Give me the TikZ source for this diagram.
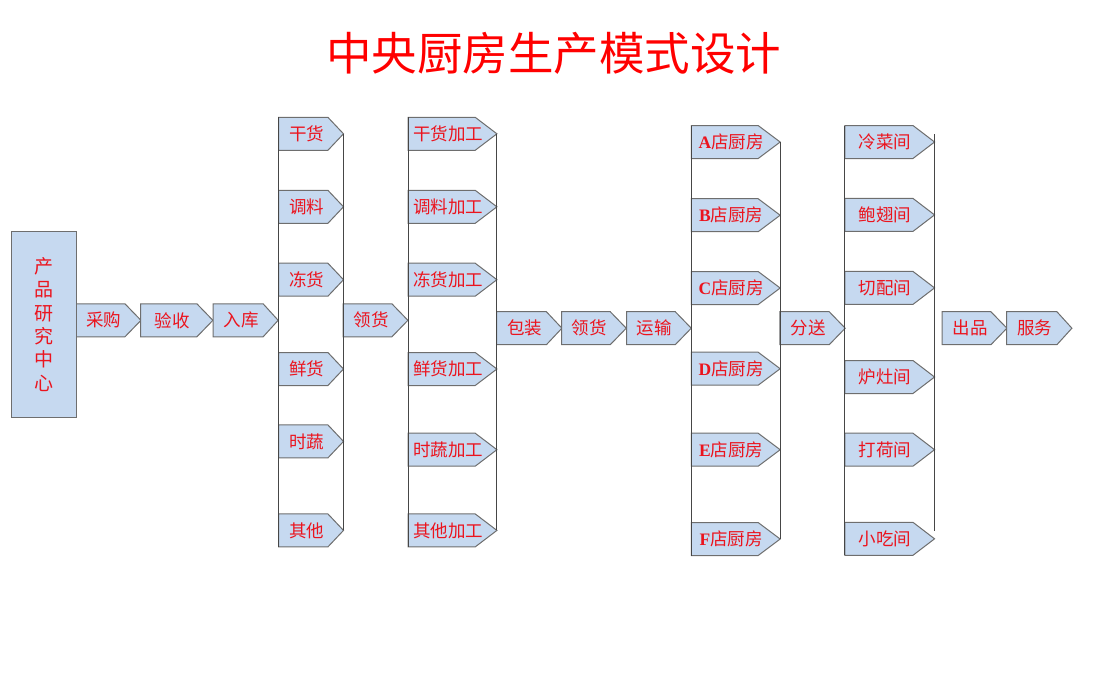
\documentclass[tikz,border=0pt]{standalone}
\usepackage{fontspec}
\newfontfamily\cjk{Noto Sans CJK SC}
\newfontfamily\latf{Liberation Serif}
\usetikzlibrary{calc}
\pgfdeclarelayer{bg}
\pgfsetlayers{bg,main}
\definecolor{boxfill}{RGB}{198,217,240}
\definecolor{boxline}{RGB}{110,110,110}
\definecolor{brline}{RGB}{70,70,70}
\definecolor{txtred}{RGB}{235,20,30}
\tikzset{
  boxnode/.style={rectangle, inner sep=0pt, minimum height=32.6pt, text=txtred,
    font=\cjk\fontsize{17.5}{17.5}\selectfont},
  boxshape/.style={fill=boxfill, draw=boxline, line width=1pt, line join=miter},
  bracket/.style={draw=brline, line width=1pt},
}
\newcommand\arrowbox[6]{%
  \node[boxnode, minimum width=#4pt] (#1) at (#2,#3) {#6\rule{9pt}{0pt}};
  \begin{pgfonlayer}{bg}
    \path[boxshape] (#1.north west) -- ([xshift=-#5pt]#1.north east) -- (#1.east)
      -- ([xshift=-#5pt]#1.south east) -- (#1.south west) -- cycle;
  \end{pgfonlayer}}
\newcommand\lt[1]{{\latf\bfseries #1}}
\begin{document}
\begin{tikzpicture}[x=1pt,y=-1pt]
\useasboundingbox (0,0) rectangle (1099,683);
% title
\node[text=red, font=\cjk\fontsize{45.5}{45.5}\selectfont] (title) at (553.5,53.5) {中央厨房生产模式设计};
% research centre
\node[rectangle, fill=boxfill, draw=boxline, line width=1pt, minimum width=64.6pt,
  minimum height=185.3pt, inner sep=0pt, text=txtred, align=center,
  font=\cjk\fontsize{19}{23.4}\selectfont] (rd) at (44,324.4) {产\\品\\研\\究\\中\\心};
% row 1
\arrowbox{cg}{108.4}{320.3}{64.7}{16}{采购}
\arrowbox{ys}{176.7}{320.3}{72}{16}{验收}
\arrowbox{rk}{245.6}{320.3}{64.7}{15}{入库}
\arrowbox{lh}{375.5}{320.3}{64.4}{16}{领货}
% column 1
\arrowbox{ga}{311}{133.8}{64.6}{15.6}{干货}
\arrowbox{gb}{311}{206.8}{64.6}{15.6}{调料}
\arrowbox{gc}{311}{279.7}{64.6}{15.6}{冻货}
\arrowbox{gd}{311}{369}{64.6}{15.6}{鲜货}
\arrowbox{ge}{311}{441.4}{64.6}{15.6}{时蔬}
\arrowbox{gf}{311}{530.4}{64.6}{15.6}{其他}
% column 2
\arrowbox{pa}{452.5}{133.8}{88.4}{21.7}{干货加工}
\arrowbox{pb}{452.5}{206.8}{88.4}{21.7}{调料加工}
\arrowbox{pc}{452.5}{279.7}{88.4}{21.7}{冻货加工}
\arrowbox{pd}{452.5}{369}{88.4}{21.7}{鲜货加工}
\arrowbox{pe}{452.5}{449.7}{88.4}{21.7}{时蔬加工}
\arrowbox{pf}{452.5}{530.4}{88.4}{21.7}{其他加工}
% row 2
\arrowbox{bz}{529.2}{328.2}{65}{15.5}{包装}
\arrowbox{lhb}{593.9}{328.2}{64.3}{16}{领货}
\arrowbox{ysb}{658.9}{328.2}{64.3}{16}{运输}
\arrowbox{fs}{812.5}{328.2}{65}{16}{分送}
\arrowbox{cp}{974.5}{328.2}{64.4}{16}{出品}
\arrowbox{fw}{1039.2}{328.2}{65}{15}{服务}
% column 3
\arrowbox{sa}{735.8}{142}{88.3}{22}{\lt{A}店厨房}
\arrowbox{sb}{735.8}{215.2}{88.3}{22}{\lt{B}店厨房}
\arrowbox{sc}{735.8}{288}{88.3}{22}{\lt{C}店厨房}
\arrowbox{sd}{735.8}{368.7}{88.3}{22}{\lt{D}店厨房}
\arrowbox{se}{735.8}{449.7}{88.3}{22}{\lt{E}店厨房}
\arrowbox{sf}{735.8}{539}{88.3}{22}{\lt{F}店厨房}
% column 4
\arrowbox{ra}{889.7}{142}{89.3}{21.6}{冷菜间}
\arrowbox{rb}{889.7}{214.9}{89.3}{21.6}{鲍翅间}
\arrowbox{rc}{889.7}{287.9}{89.3}{21.6}{切配间}
\arrowbox{rdd}{889.7}{377}{89.3}{21.6}{炉灶间}
\arrowbox{re}{889.7}{449.7}{89.3}{21.6}{打荷间}
\arrowbox{rf}{889.7}{538.8}{89.3}{21.6}{小吃间}
% brackets
\draw[bracket] (ga.north west) -- (gf.south west);
\draw[bracket] (ga.east) -- (gf.east);
\draw[bracket] (pa.north west) -- (pf.south west);
\draw[bracket] (pa.east) -- (pf.east);
\draw[bracket] (sa.north west) -- (sf.south west);
\draw[bracket] (sa.east) -- (sf.east);
\draw[bracket] (ra.north west) -- (rf.south west);
\draw[bracket] ($(ra.east)+(0,-8)$) -- ($(rf.east)+(0,-8)$);
\end{tikzpicture}
\end{document}
